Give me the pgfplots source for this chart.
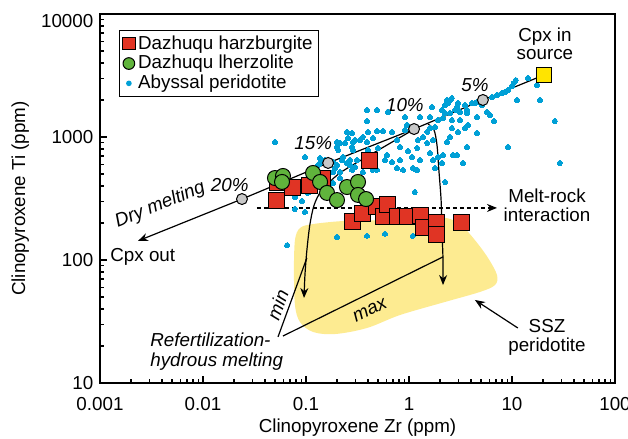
\documentclass[border=0pt]{standalone}
\usepackage{fontspec}
\setmainfont{Liberation Sans}
\usepackage{pgfplots}
\pgfplotsset{compat=1.18}
\usetikzlibrary{arrows.meta}
\definecolor{hzred}{RGB}{224,52,36}
\definecolor{lzgreen}{RGB}{96,180,60}
\definecolor{abblue}{RGB}{0,160,214}
\definecolor{sszyellow}{RGB}{253,235,145}
\definecolor{srcyellow}{RGB}{255,228,0}
\definecolor{ptgray}{RGB}{200,200,200}
\newcommand{\lf}{\fontsize{9.4}{10}\selectfont}
\begin{document}
\fontsize{9.4}{11.3}\selectfont
\begin{tikzpicture}
\begin{axis}[
  scale only axis, width=257.5pt, height=184.5pt,
  xmode=log, ymode=log,
  xmin=0.001, xmax=100, ymin=10, ymax=10000,
  xtick={0.001,0.01,0.1,1,10,100}, xticklabels={0.001,0.01,0.1,1,10,100},
  ytick={10,100,1000,10000}, yticklabels={10,100,1000,\raisebox{-3.5pt}[\height][\depth]{10000}},
  minor xtick={0.002,0.003,0.004,0.005,0.006,0.007,0.008,0.009,0.02,0.03,0.04,0.05,0.06,0.07,0.08,0.09,0.2,0.3,0.4,0.5,0.6,0.7,0.8,0.9,2,3,4,5,6,7,8,9,20,30,40,50,60,70,80,90},
  minor ytick={20,30,40,50,60,70,80,90,200,300,400,500,600,700,800,900,2000,3000,4000,5000,6000,7000,8000,9000},
  tick align=inside, tick pos=left,
  major tick length=3.5pt, minor tick length=2pt,
  every tick/.style={black, line width=0.6pt},
  axis line style={line width=0.7pt},
  tick label style={font=\fontsize{9.4}{11.3}\selectfont},
  xticklabel style={yshift=-4pt},
  xlabel={Clinopyroxene Zr (ppm)}, ylabel={Clinopyroxene Ti (ppm)},
  label style={font=\fontsize{9.4}{11.3}\selectfont},
  xlabel style={at={(axis description cs:0.5,-0.122)}, anchor=center},
  ylabel style={at={(axis description cs:-0.155,0.5)}, anchor=center},
  legend style={at={(axis description cs:0.037,0.957)}, anchor=north west, draw=black, line width=0.6pt, fill=white,
    inner xsep=1.5pt, inner ysep=0.5pt, row sep=-2.3pt, font=\lf, cells={anchor=west},
    nodes={inner xsep=1.5pt}},
  legend image code/.code={\draw[mark repeat=1,mark phase=1,#1,every mark/.append style={scale=0.78}] plot coordinates {(0.1cm,0cm)};},
]
% SSZ peridotite field
\addplot[fill=sszyellow, draw=none, smooth, tension=0.55, forget plot] coordinates {
(0.0763,83.0) (0.0781,145) (0.0875,182) (0.117,196) (0.239,208) (0.522,211) (1.28,219) (2.34,219)
(3.27,189) (4.37,145) (5.85,104) (7.15,75.5) (6.84,62.6) (4.89,55.0) (2.24,45.6) (0.818,35.7)
(0.391,28.0) (0.191,25.0) (0.117,26.0) (0.0875,31.3) (0.0781,43.1) (0.0763,83.0)} -- cycle;
% abyssal peridotite
\addplot[only marks, color=abblue, mark=*, mark size=1.25pt, mark options={draw=abblue, fill=abblue, line width=0pt}, forget plot] coordinates {
(14.3,3020) (10.9,2904) (10.4,2748) (10.0,2600) (9.14,2410) (8.55,2323) (8.00,2280) (7.15,2193) (6.40,2113)
(5.12,1820) (4.57,1928) (4.09,1890) (3.50,1820) (2.99,1890) (2.50,2000) (2.39,1890) (2.24,1820) (2.09,1660)
(2.80,1660) (2.50,1567) (3.13,1597) (3.66,1567) (2.14,1426) (2.61,1374) (3.13,1374) (4.57,1455) (5.71,1597)
(6.11,1510) (6.68,1349) (3.74,1253) (3.50,1183) (2.61,1183) (2.99,1099) (4.57,1078) (11.2,2000) (18.7,2000)
(17.5,2648) (26.1,1349) (9.14,830) (3.66,830) (2.67,714) (2.92,714) (2.14,714) (3.34,615) (29.2,615)
(0.489,1660) (0.625,1597) (0.391,1349) (0.489,1119) (0.560,1119) (0.684,1099) (0.764,946) (0.914,1140)
(0.957,1253) (0.818,830) (0.977,769) (1.20,814) (1.22,946) (1.37,1000) (1.50,1099) (1.60,1183) (1.50,894)
(1.71,946) (1.79,1205) (1.91,1374) (1.60,1455) (1.28,1455) (2.24,1567) (0.391,911) (0.334,946) (0.286,911)
(0.280,830) (0.250,1099) (0.239,894) (0.200,911) (0.205,784) (0.286,784) (0.400,784) (0.500,814) (0.611,714)
(0.585,650) (0.684,626) (0.818,650) (0.764,560) (1.07,688) (1.28,650) (1.60,741) (1.71,650) (1.91,688)
(2.09,615) (1.09,560) (0.267,650) (0.299,570) (0.224,650) (0.183,626) (0.447,540) (1.79,560) (0.0500,911)
(0.0977,688) (0.137,615) (0.153,650) (0.256,982) (0.229,688) (0.200,592) (0.183,519) (0.214,519) (0.250,615)
(0.137,675) (0.191,560) (0.267,592) (0.313,650) (0.280,540) (0.357,519) (0.183,423) (0.214,464) (0.0781,325)
(0.0914,302) (0.1045,351) (0.0781,260) (0.0977,246) (0.0655,132) (0.200,154) (0.391,157) (0.489,540)
(0.585,163) (1.09,157) (0.914,1455) (1.67,1754) (2.34,2000) (2.61,2075) (2.92,1754) (3.66,1660) (4.37,1890)
(2.50,1000) (2.34,911) (1.20,540) (1.14,357) (0.280,1078) (0.299,946) (0.214,894) (0.200,830) (2.24,431)
(0.875,540) (1.17,540) (0.391,1660) (0.357,1000) (0.400,1099) (0.447,982) (0.131,592)};
% dry melting line
\addplot[black, line width=0.6pt, -{Stealth[length=5pt,width=4pt]}, forget plot] coordinates {
(20.4,3190) (5.22,2000) (1.12,1161) (0.164,615) (0.0239,313) (0.00234,143)};
% refertilization curves
\addplot[black, line width=0.6pt, smooth, tension=0.5, -{Stealth[length=5pt,width=4pt]}, forget plot] coordinates {
(1.09,1140) (0.418,714) (0.214,510) (0.143,371) (0.120,280) (0.109,193) (0.102,120) (0.0977,75.5) (0.0957,49.1)};
\addplot[black, line width=0.6pt, smooth, tension=0.5, -{Stealth[length=5pt,width=4pt]}, forget plot] coordinates {
(1.53,1276) (1.75,1140) (1.87,861) (1.95,539) (2.05,307) (2.09,175) (2.14,100) (2.14,62.6)};
% pointer lines
\addplot[black, line width=0.6pt, forget plot] coordinates {(0.0535,23.7) (0.102,104)};
\addplot[black, line width=0.6pt, forget plot] coordinates {(0.0598,24.1) (2.14,106)};
% melt-rock interaction
\addplot[black, line width=0.6pt, dash pattern=on 2pt off 1.5pt, -{Stealth[length=5pt,width=4pt]}, forget plot] coordinates {(0.0334,265) (7.15,265)};
% SSZ arrow
\addplot[black, line width=0.6pt, -{Stealth[length=5pt,width=4pt]}, forget plot] coordinates {(11.4,28.0) (4.37,47.3)};
% melting-degree points
\addplot[only marks, mark=*, mark size=2.75pt, mark options={fill=ptgray, draw=black, line width=0.5pt}, forget plot] coordinates {
(5.22,2000) (1.12,1161) (0.164,615) (0.0239,313)};
\addplot[only marks, mark=square*, mark size=3.75pt, mark options={fill=srcyellow, draw=black, line width=0.5pt}, forget plot] coordinates {(20.4,3190)};
% Dazhuqu harzburgite
\addplot[only marks, mark=square*, mark size=4pt, mark options={fill=hzred, draw=black, line width=0.5pt}] coordinates {
(0.0522,307) (0.0530,423) (0.0748,392) (0.109,407) (0.146,464) (0.418,650) (0.280,204) (0.350,241) (0.489,270)
(0.560,224) (0.625,280) (0.781,224) (0.957,224) (1.28,232) (1.37,185) (1.87,200) (1.87,160) (3.27,200)};
\addlegendentry{\lf Dazhuqu harzburgite}
% Dazhuqu lherzolite
\addplot[only marks, mark=*, mark size=3.75pt, mark options={fill=lzgreen, draw=black, line width=0.5pt}] coordinates {
(0.050,464) (0.0598,482) (0.0585,431) (0.117,510) (0.137,431) (0.160,351) (0.200,307) (0.250,392) (0.320,431)
(0.320,338) (0.383,313)};
\addlegendentry{\lf Dazhuqu lherzolite}
\addlegendimage{only marks, color=abblue, mark=*, mark size=1.4pt, mark options={draw=abblue, fill=abblue}}
\addlegendentry{\lf Abyssal peridotite}
% annotations
\node[align=center, font=\fontsize{9.4}{9.2}\selectfont] at (axis description cs:0.864,0.919) {Cpx in\\source};
\node[align=center, font=\fontsize{9.4}{9.6}\selectfont] at (axis description cs:0.868,0.481) {Melt-rock\\interaction};
\node[align=center, font=\fontsize{9.4}{9.6}\selectfont] at (axis description cs:0.868,0.123) {SSZ\\peridotite};
\node[anchor=west, inner sep=0pt] at (axis description cs:0.0194,0.341) {Cpx out};
\node[anchor=west, align=left, inner sep=0pt, font=\itshape\fontsize{9.4}{10}\selectfont] at (axis description cs:0.097,0.084) {Refertilization-\\hydrous melting};
\node[rotate=22, font=\itshape] at (axis description cs:0.117,0.482) {Dry melting};
\node[font=\itshape] at (axis description cs:0.252,0.537) {20\%};
\node[font=\itshape] at (axis description cs:0.414,0.650) {15\%};
\node[font=\itshape] at (axis description cs:0.592,0.753) {10\%};
\node[font=\itshape] at (axis description cs:0.728,0.808) {5\%};
\node[rotate=70, font=\itshape, inner sep=1pt] at (axis description cs:0.345,0.212) {min};
\node[rotate=26, font=\itshape, inner sep=1pt] at (axis description cs:0.524,0.197) {max};
\end{axis}
\pgfresetboundingbox
\path[use as bounding box] ([shift={(-50pt,-28pt)}]current axis.south west) rectangle ([shift={(6.5pt,7pt)}]current axis.north east);
\end{tikzpicture}
\end{document}
